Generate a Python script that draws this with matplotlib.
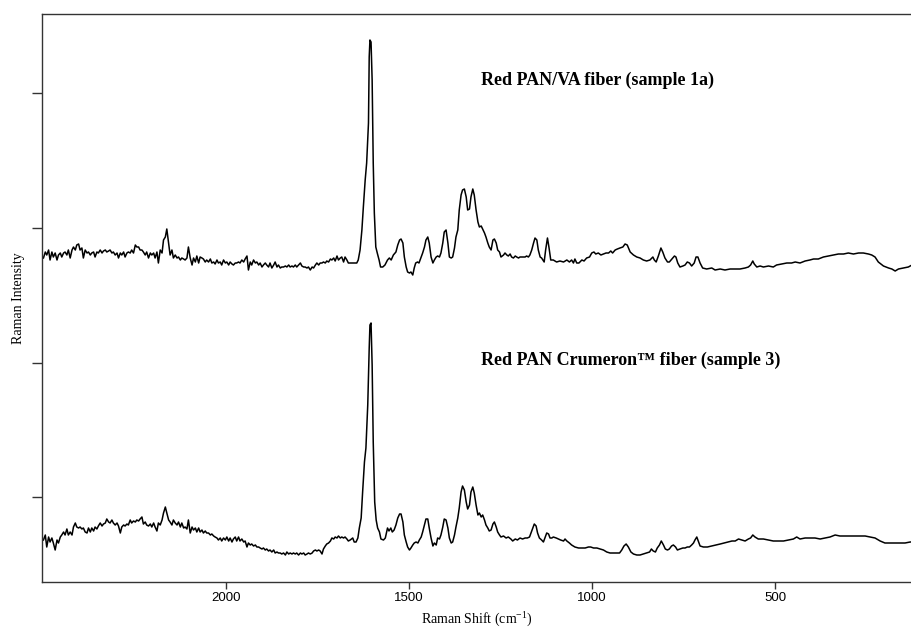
import matplotlib.pyplot as plt

plt.rcParams['font.family'] = ['Liberation Serif', 'DejaVu Serif']
plt.rcParams['mathtext.fontset'] = 'custom'
plt.rcParams['mathtext.rm'] = 'Liberation Serif'

# Raman shift (cm-1) and intensity (arb. units)
topShift = [
    2499, 2494, 2490, 2485, 2481, 2476, 2472, 2467, 2462, 2458,
    2453, 2449, 2444, 2440, 2435, 2431, 2426, 2421, 2417, 2412,
    2408, 2403, 2399, 2394, 2390, 2385, 2380, 2376, 2371, 2367,
    2362, 2358, 2353, 2349, 2344, 2339, 2335, 2330, 2326, 2321,
    2317, 2312, 2308, 2303, 2298, 2294, 2289, 2285, 2280, 2276,
    2271, 2267, 2262, 2258, 2253, 2248, 2244, 2239, 2235, 2230,
    2226, 2221, 2217, 2212, 2207, 2203, 2198, 2194, 2189, 2185,
    2180, 2175, 2171, 2166, 2162, 2157, 2153, 2148, 2144, 2139,
    2134, 2130, 2125, 2121, 2116, 2112, 2107, 2103, 2098, 2093,
    2089, 2084, 2080, 2075, 2071, 2066, 2062, 2057, 2053, 2048,
    2043, 2039, 2034, 2030, 2025, 2021, 2016, 2012, 2007, 2002,
    1998, 1993, 1989, 1984, 1980, 1975, 1971, 1966, 1962, 1957,
    1952, 1948, 1943, 1939, 1934, 1930, 1925, 1920, 1916, 1911,
    1907, 1902, 1898, 1893, 1889, 1884, 1880, 1875, 1870, 1866,
    1861, 1857, 1852, 1848, 1843, 1838, 1834, 1829, 1825, 1820,
    1816, 1811, 1807, 1802, 1797, 1793, 1788, 1784, 1779, 1775,
    1770, 1765, 1761, 1756, 1752, 1747, 1743, 1738, 1734, 1729,
    1725, 1720, 1715, 1711, 1706, 1702, 1697, 1693, 1688, 1684,
    1679, 1675, 1670, 1666, 1661,
    1657, 1643, 1639, 1634, 1629, 1625, 1620, 1616, 1611, 1609,
    1607, 1604, 1601, 1598, 1595, 1591, 1587, 1582, 1578, 1572,
    1566, 1559, 1554, 1549, 1543, 1536, 1531, 1526, 1522, 1517,
    1513, 1508, 1504, 1499, 1495, 1490, 1486, 1482, 1477, 1473,
    1468, 1463, 1458, 1454, 1449, 1445, 1440, 1435, 1431, 1426,
    1422, 1417, 1413, 1408, 1404, 1399, 1394, 1390, 1385, 1381,
    1376, 1372, 1367, 1363, 1358, 1354, 1349, 1344, 1340, 1335,
    1331, 1326, 1322, 1317, 1312, 1308, 1303, 1299, 1294, 1290,
    1285, 1281, 1276, 1271, 1267, 1262, 1258, 1253, 1249, 1242,
    1238, 1233, 1229, 1224, 1220, 1215, 1210, 1206, 1201, 1197,
    1192, 1188, 1183, 1179, 1174, 1170, 1165, 1160, 1156, 1151,
    1147, 1142,
    1138, 1131, 1127, 1122, 1118, 1113, 1106, 1097, 1088, 1078,
    1069, 1062, 1056, 1051, 1047, 1042, 1036, 1028, 1022, 1015,
    1007, 1001, 995, 990, 983, 976, 969, 962, 955, 949,
    944, 937, 931, 924, 916, 910, 904, 896, 887, 878,
    869, 860, 851, 842, 834, 830, 825, 819, 812, 807,
    801, 794, 789, 782, 775, 771, 766, 760, 752, 746,
    740, 734, 728, 721, 716, 711, 705, 698, 687, 673,
    664, 650, 637, 623, 609, 596, 582, 573, 567, 561,
    557, 550, 541, 532, 518, 505, 496, 482, 468, 455,
    445, 432, 418, 405, 395, 382, 368, 354, 341, 327,
    313, 300, 286, 272, 259, 245, 236, 227, 218, 204,
    190, 181, 172, 163, 149, 136, 126,
]
topInt = [
    324, 330, 327, 332, 322, 330, 325, 329, 322, 327,
    329, 325, 329, 330, 327, 332, 324, 332, 335, 332,
    337, 338, 332, 334, 324, 332, 329, 330, 327, 329,
    330, 325, 330, 329, 332, 329, 331, 332, 330, 331,
    332, 329, 330, 327, 329, 324, 329, 327, 330, 325,
    329, 330, 329, 332, 329, 337, 335, 335, 332, 332,
    330, 327, 330, 324, 329, 327, 329, 324, 330, 319,
    332, 329, 342, 345, 353, 339, 327, 332, 324, 327,
    324, 325, 322, 324, 323, 322, 324, 335, 324, 317,
    324, 320, 326, 319, 325, 324, 323, 320, 322, 320,
    323, 319, 320, 318, 322, 319, 320, 317, 322, 319,
    320, 317, 320, 318, 317, 319, 319, 320, 319, 322,
    320, 323, 326, 312, 320, 317, 322, 319, 320, 317,
    319, 315, 317, 319, 317, 315, 319, 314, 317, 320,
    315, 317, 314, 315, 315, 316, 315, 317, 315, 316,
    315, 317, 315, 317, 319, 316, 315, 315, 314, 315,
    312, 315, 314, 317, 319, 317, 319, 319, 320, 319,
    321, 320, 323, 322, 324, 321, 326, 322, 324, 325,
    320, 325, 322, 319, 319,
    319, 319, 322, 332, 352, 375, 402, 419, 459, 525,
    542, 540, 502, 419, 369, 335, 329, 322, 315, 315,
    317, 322, 324, 322, 327, 330, 337, 342, 343, 339,
    325, 315, 310, 309, 310, 307, 314, 319, 320, 319,
    324, 329, 335, 342, 345, 339, 325, 319, 322, 325,
    326, 325, 329, 339, 350, 352, 339, 325, 324, 325,
    334, 345, 352, 372, 387, 392, 393, 385, 372, 373,
    385, 393, 387, 372, 360, 355, 356, 353, 349, 345,
    339, 335, 332, 342, 343, 339, 332, 330, 325, 327,
    329, 327, 326, 328, 325, 324, 326, 325, 324, 325,
    325, 325, 325, 326, 325, 327, 332, 339, 344, 342,
    332, 325,
    324, 320, 332, 344, 335, 322, 322, 320, 321, 320,
    322, 320, 322, 319, 323, 319, 319, 322, 321, 324,
    325, 329, 330, 328, 329, 327, 328, 329, 329, 331,
    329, 332, 333, 334, 335, 338, 337, 330, 327, 325,
    324, 322, 321, 322, 325, 322, 320, 326, 334, 330,
    324, 320, 320, 323, 326, 325, 319, 315, 316, 317,
    320, 319, 316, 319, 325, 325, 319, 314, 313, 314,
    312, 313, 312, 313, 313, 313, 314, 315, 317, 321,
    318, 315, 316, 315, 316, 315, 317, 318, 319, 319,
    320, 319, 321, 322, 323, 323, 325, 326, 327, 328,
    328, 329, 328, 329, 329, 328, 327, 325, 320, 316,
    314, 313, 311, 313, 314, 315, 317,
]

botShift = [
    2499, 2494, 2490, 2485, 2481, 2476, 2472, 2467, 2462, 2458,
    2453, 2449, 2444, 2440, 2435, 2431, 2426, 2421, 2417, 2412,
    2408, 2403, 2399, 2394, 2390, 2385, 2380, 2376, 2371, 2367,
    2362, 2358, 2353, 2349, 2344, 2339, 2335, 2330, 2326, 2321,
    2317, 2312, 2308, 2303, 2298, 2294, 2289, 2285, 2280, 2276,
    2271, 2267, 2262, 2258, 2253, 2248, 2244, 2239, 2235, 2230,
    2226, 2221, 2217, 2212, 2207, 2203, 2198, 2194, 2189, 2185,
    2180, 2175, 2171, 2166, 2162, 2157, 2153, 2148, 2144, 2139,
    2134, 2130, 2125, 2121, 2116, 2112, 2107, 2103, 2098, 2093,
    2089, 2084, 2080, 2075, 2071, 2066, 2062, 2057, 2053, 2048,
    2043, 2039, 2034, 2030, 2025, 2021, 2016, 2012, 2007, 2002,
    1998, 1993, 1989, 1984, 1980, 1975, 1971, 1966, 1962, 1957,
    1952, 1948, 1943, 1939, 1934, 1930, 1925, 1920, 1916, 1911,
    1907, 1902, 1898, 1893, 1889, 1884, 1880, 1875, 1870, 1866,
    1861, 1857, 1852, 1848, 1843, 1838, 1834, 1829, 1825, 1820,
    1816, 1811, 1807, 1802, 1797, 1793, 1788, 1784, 1779, 1775,
    1770, 1765, 1761, 1756, 1752, 1747, 1743, 1738, 1734, 1729,
    1725, 1720, 1715, 1711, 1706, 1702, 1697, 1693, 1688, 1684,
    1679, 1675, 1670, 1666, 1661,
    1654, 1650, 1645, 1640, 1636, 1631, 1627, 1622, 1618, 1613,
    1609, 1607, 1604, 1601, 1598, 1594, 1590, 1586, 1581, 1577,
    1570, 1565, 1559, 1555, 1550, 1546, 1541, 1536, 1531, 1526,
    1522, 1517, 1513, 1508, 1504, 1499, 1495, 1490, 1486, 1481,
    1476, 1472, 1467, 1463, 1458, 1454, 1449, 1445, 1440, 1435,
    1431, 1426, 1422, 1417, 1413, 1408, 1404, 1399, 1394, 1390,
    1385, 1381, 1376, 1372, 1367, 1363, 1358, 1354, 1349, 1344,
    1340, 1335, 1331, 1326, 1322, 1317, 1312, 1308, 1303, 1299,
    1294, 1290, 1285, 1281, 1276, 1271, 1267, 1262, 1258, 1253,
    1249, 1242, 1235, 1229, 1222, 1217, 1210, 1204, 1197, 1190,
    1183, 1177, 1171, 1167, 1162, 1158, 1153, 1149, 1144,
    1138, 1133, 1128, 1124, 1119, 1115, 1110, 1106, 1098, 1092,
    1086, 1078, 1074, 1069, 1062, 1056, 1047, 1037, 1028, 1019,
    1010, 1004, 996, 987, 978, 969, 960, 951, 942, 933,
    925, 919, 913, 907, 901, 894, 887, 878, 869, 860,
    851, 843, 838, 833, 827, 822, 816, 811, 805, 800,
    794, 789, 783, 778, 772, 767, 760, 752, 746, 740,
    734, 728, 723, 719, 714, 710, 705, 696, 685, 673,
    661, 650, 639, 628, 618, 609, 600, 591, 582, 573,
    567, 561, 555, 546, 532, 518, 505, 491, 477, 464,
    450, 441, 432, 418, 405, 391, 377, 363, 350, 336,
    323, 309, 295, 282, 268, 254, 241, 227, 213, 200,
    186, 172, 159, 145, 131, 126,
]
botInt = [
    42, 47, 35, 45, 40, 44, 39, 32, 42, 39,
    45, 47, 50, 47, 53, 47, 50, 47, 55, 59,
    55, 54, 55, 53, 54, 50, 49, 54, 50, 54,
    51, 55, 53, 56, 59, 56, 58, 59, 63, 60,
    59, 62, 59, 57, 59, 56, 49, 55, 57, 56,
    58, 57, 62, 59, 61, 60, 62, 61, 63, 65,
    58, 60, 57, 56, 58, 55, 59, 55, 51, 59,
    57, 62, 69, 75, 69, 62, 60, 57, 62, 59,
    57, 60, 55, 59, 54, 55, 53, 62, 49, 55,
    52, 54, 50, 54, 50, 52, 49, 51, 49, 49,
    47, 48, 46, 45, 44, 42, 44, 41, 44, 42,
    45, 41, 44, 40, 43, 45, 41, 45, 41, 43,
    40, 41, 35, 39, 37, 38, 36, 37, 35, 35,
    34, 33, 34, 32, 33, 31, 32, 30, 32, 29,
    30, 29, 29, 28, 29, 27, 30, 28, 29, 28,
    29, 28, 29, 27, 29, 28, 29, 27, 28, 29,
    28, 29, 31, 32, 31, 32, 31, 28, 33, 36,
    38, 39, 41, 44, 43, 45, 44, 46, 44, 45,
    44, 45, 43, 41, 42,
    44, 40, 40, 44, 54, 64, 90, 120, 134, 177,
    234, 257, 259, 217, 140, 80, 62, 54, 50, 43,
    42, 44, 54, 51, 54, 50, 52, 57, 64, 68,
    68, 60, 47, 40, 35, 32, 34, 37, 39, 40,
    39, 42, 45, 50, 57, 63, 63, 54, 44, 36,
    39, 37, 44, 43, 47, 55, 63, 62, 54, 44,
    39, 40, 47, 55, 64, 74, 90, 96, 92, 80,
    73, 77, 90, 95, 89, 77, 67, 69, 65, 67,
    62, 57, 54, 51, 52, 58, 60, 55, 50, 47,
    45, 46, 44, 45, 43, 41, 43, 42, 44, 43,
    44, 44, 45, 49, 54, 58, 56, 49, 44,
    42, 40, 45, 49, 48, 44, 44, 45, 44, 43,
    42, 41, 43, 41, 39, 37, 35, 34, 34, 34,
    35, 35, 34, 34, 33, 32, 30, 29, 29, 29,
    29, 32, 36, 38, 35, 30, 28, 27, 27, 28,
    29, 30, 33, 31, 30, 34, 37, 41, 37, 33,
    32, 33, 36, 37, 35, 32, 33, 34, 34, 35,
    35, 37, 39, 42, 45, 41, 36, 35, 35, 36,
    37, 38, 39, 40, 41, 41, 43, 42, 41, 43,
    44, 47, 45, 43, 43, 42, 41, 41, 41, 42,
    43, 45, 43, 44, 44, 44, 43, 44, 45, 47,
    46, 46, 46, 46, 46, 46, 45, 44, 41, 39,
    39, 39, 39, 39, 40, 40,
]

xTicks = [2000, 1500, 1000, 500]
yTicks = [85, 219, 354, 489]
topLabel = 'Red PAN/VA fiber (sample 1a)'
botLabel = 'Red PAN Crumeron\u2122 fiber (sample 3)'

assert len(topShift) == len(topInt), (len(topShift), len(topInt))
assert len(botShift) == len(botInt), (len(botShift), len(botInt))

fig = plt.figure(figsize=(9.12, 6.28), dpi=100)
ax = fig.add_axes([42 / 912, 46 / 628, 870 / 912, 568 / 628])

ax.plot(topShift, topInt, color='black', lw=1.1)
ax.plot(botShift, botInt, color='black', lw=1.1)

ax.set_xlim(2503, 126)
ax.set_ylim(0, 568)
ax.spines['right'].set_visible(False)
for side in ['left', 'top', 'bottom']:
    ax.spines[side].set_color('#333333')
    ax.spines[side].set_linewidth(1.0)

ax.set_xticks(xTicks)
ax.set_xticklabels([str(t) for t in xTicks], fontfamily='Liberation Sans', fontsize=9.5)
ax.set_yticks(yTicks)
ax.set_yticklabels([])
ax.tick_params(axis='y', length=7, width=1, color='#333333')
ax.tick_params(axis='x', length=5, width=1, color='#333333', pad=2)

ax.set_xlabel('Raman Shift (cm$^{-1}$)', fontsize=10, labelpad=4)
ax.set_ylabel('Raman Intensity', fontsize=10, labelpad=2)

ax.text(1303, 497, topLabel, fontweight='bold', fontsize=13, va='baseline')
ax.text(1303, 217, botLabel, fontweight='bold', fontsize=13, va='baseline')

fig.savefig('out.png', dpi=100)
